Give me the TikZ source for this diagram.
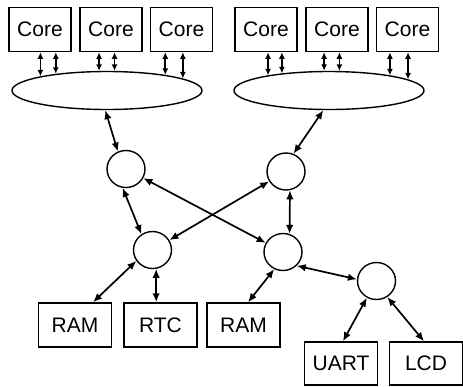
\documentclass[tikz,border=0pt]{standalone}
\usepackage{fontspec}
\setmainfont{Liberation Sans}
\usetikzlibrary{shapes.geometric,arrows.meta}
\begin{document}
\begin{tikzpicture}[x=1pt,y=-1pt,
  box/.style={draw,line width=1.5pt,minimum width=62pt,minimum height=44pt,inner sep=0pt,font=\fontsize{21}{25}\selectfont},
  bbox/.style={box,minimum width=73pt},
  bus/.style={draw,ellipse,line width=1.4pt,minimum width=190pt,minimum height=38pt,inner sep=0pt},
  sw/.style={draw,ellipse,line width=1.4pt,minimum width=38pt,minimum height=37pt,inner sep=0pt},
  arr/.style={{Latex[length=9pt,width=7.5pt]}-{Latex[length=9pt,width=7.5pt]},line width=1.7pt},
  carr/.style={{Latex[length=6.5pt,width=6pt]}-{Latex[length=6.5pt,width=6pt]},line width=1.6pt}]
\useasboundingbox (0,0) rectangle (463,386);
% cores
\node[box] (c1) at (40,29.5) {Core};
\node[box] (c2) at (111,29.5) {Core};
\node[box] (c3) at (181.5,29.5) {Core};
\node[box] (c4) at (266,29.5) {Core};
\node[box] (c5) at (337,29.5) {Core};
\node[box] (c6) at (407.5,29.5) {Core};
% buses
\node[bus] (e1) at (107,90.5) {};
\node[bus] (e2) at (329,90.5) {};
% switches
\node[sw] (A) at (126,169) {};
\node[sw] (B) at (286,171.5) {};
\node[sw] (C) at (152.5,250) {};
\node[sw] (D) at (283,252) {};
\node[sw] (E) at (376.5,281) {};
% peripherals
\node[bbox] (ram1) at (75,325) {RAM};
\node[bbox] (rtc) at (160.5,325) {RTC};
\node[bbox] (ram2) at (243.5,325) {RAM};
\node[bbox,minimum height=43pt] (uart) at (341,363.5) {UART};
\node[bbox,minimum height=43pt] (lcd) at (426,363.5) {LCD};
% core-bus links
\draw[carr] (e1.168.3 |- c1.south) -- (e1.168.3);
\draw[carr] (e1.162.1 |- c1.south) -- (e1.162.1);
\draw[carr] (e1.112.9 |- c2.south) -- (e1.112.9);
\draw[carr] (e1.69.7 |- c2.south) -- (e1.69.7);
\draw[carr] (e1.15.3 |- c3.south) -- (e1.15.3);
\draw[carr] (e1.9.8 |- c3.south) -- (e1.9.8);
\draw[carr] (e2.166.9 |- c4.south) -- (e2.166.9);
\draw[carr] (e2.160.7 |- c4.south) -- (e2.160.7);
\draw[carr] (e2.104.8 |- c5.south) -- (e2.104.8);
\draw[carr] (e2.62.1 |- c5.south) -- (e2.62.1);
\draw[carr] (e2.14.2 |- c6.south) -- (e2.14.2);
\draw[carr] (e2.8.9 |- c6.south) -- (e2.8.9);
% network
\draw[arr] (e1.265) -- (A.115);
\draw[arr] (e2.254) -- (B.67);
\draw[arr] (A) -- (D);
\draw[arr] (B) -- (C);
\draw[arr] (A.260) -- (C.125);
\draw[arr] (B.282) -- (D.70);
\draw[arr] (C.214) -- ([xshift=18pt]ram1.north);
\draw[arr] (C.281) -- (C.281 |- rtc.north);
\draw[arr] (D.243) -- ([xshift=4.5pt]ram2.north);
\draw[arr] (D.315) -- (E.175);
\draw[arr] (E.240) -- ([xshift=2pt]uart.north);
\draw[arr] (E.304) -- ([xshift=-2pt]lcd.north);
\end{tikzpicture}
\end{document}
